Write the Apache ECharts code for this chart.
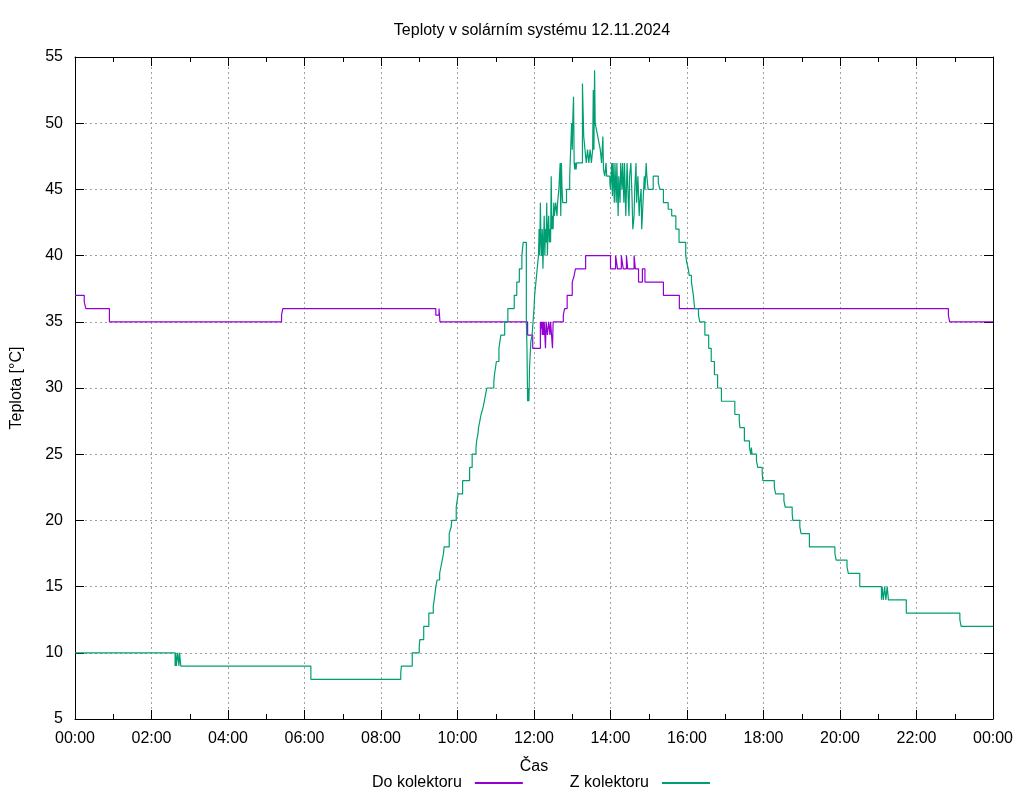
<!DOCTYPE html>
<html>
<head>
<meta charset="utf-8">
<script src="https://cdn.jsdelivr.net/npm/echarts@6/dist/echarts.min.js"></script>
<style>html,body{margin:0;padding:0;background:#fff}#c{width:1024px;height:800px}</style>
</head>
<body>
<div id="c"></div>
<script>
// time in minutes from midnight, temperature in °C (change points of a step line)
var doTimes = [0,14.5,17,54,324,326,566,571,572.5,710,718,730,731,732,733,734,735,736,738,739,741,743,745,746,749,750,766,768,772,780,783,785,801,840,848,851,857,860,865,867,877,879,884,890,894,923,948,1370,1372,1440];
var doTemps = [37,36.5,36,35,35.5,36,35.5,36,35,34,33,35,34.5,35,34,35,34,35,33,35,34,35,34,35,33,35,35.5,36,37,38,38.5,39,40,39,40,39,40,39,40,39,40,39,38,39,38,37,36,35.5,35,35];

var zTimes = [0,157,158,159,161,163,164,166,370,511,512,529,540,541,547,555,562,563.5,566,568,572,574,576,578,579,587,590,591,598,601,608,619,623,629,630,632,633,635,637,640,642,644,646,657,658,661,665,668,674,679,689,693,697,701,703,708,709,710,711,712,713,715,717,718.5,720,721,723,725,727,728,729,730,731,732,733,734,735,736,737,738,739,740,741,742,743,744,745,746,747,748,749,750,751,752,754,756,757,759,761,762,763,764,765,771,776,779,780,781,782,783,784,785,786,787,796,797,798,800,802,804,806,808,810,812,813,814,815,816,818,820,822,824,826,828,829,831,833,834,839,840,842,843,844,846,847,849,850,852,853,855,856,858,859,861,862,864,865,866,868,869,870,872,874,875,877,878,880,881,883,885,886,888,889,891,893,894,896,897,899,907,915,917.5,923,930.5,936,942.5,947.5,958,959.5,962,963.5,967,970,972,978,980,988,994,998,1003,1008,1014,1035,1042,1043,1050,1058,1060,1061,1062,1069,1071,1078,1079,1097,1099,1112,1114,1125,1126,1137,1139,1152,1192,1194,1211,1213,1231,1265,1266,1268,1270,1272,1274,1276,1304,1388,1390,1440];
var zTemps = [10,9,10,9,10,9,10,9,8,8.5,9,10,10.5,11,12,13,13.5,14,15,15.5,16,16.5,17,17.5,18,19,19.5,20,21,22,23,24,25,25.5,26,26.5,27,27.5,28,28.5,29,29.5,30,30.5,31,32,33,34,35,36,37,38,39,40,41,35,33,29,30,29,31.5,33.5,34,35,36,37,38,39,40,42,40,44,41,40,42,39,41,43,40,42,41,44,40,42,43,41,42,41,46,42,43,42,44,43,44,43,44,45,47,43,47,45,44,45,46,50,48,50.5,52,47,46.5,47,46.5,47,53,51,49,48,47,48,47,48,47,48,52.5,48,54,50,49.5,49,48.5,48,47,49,46.5,46,47,46,45.5,45,47,44.5,47,44,47,44,47,43,46,44,47,45,47,44,47,43,45,47,44,43,46,47,44,42,43,45,47,44,46,43,44,45,42,44,46,45,47,46,45,46,45.5,45,44,43.5,43,42,41,40,39.5,39,38.5,38,37,36,35.5,35,34,33,32,31,30,29,28,27.5,27,26,25.5,25,25.5,25,24.5,24,23.5,23,22.5,22,21.5,21,20.5,20,19.5,19,18,17.5,17,16.5,16,15,14,15,14,15,14,15,14,13,12.5,12,12];

var xTickMinutes = [0,120,240,360,480,600,720,840,960,1080,1200,1320,1440];
var yTicks = [5,10,15,20,25,30,35,40,45,50,55];

function pairs(t, v){ return t.map(function(x,i){ return [x, v[i]]; }); }
function fmt(m){ var h = Math.floor(m/60)%24, mm = Math.round(m%60); return (h<10?'0':'')+h+':'+(mm<10?'0':'')+mm; }

var FONT = '"Liberation Sans", Arial, sans-serif';
var FS = 16;
var gridLine = {show:true, lineStyle:{color:'#a0a0a0', type:[2,3], width:1}};

var chart = echarts.init(document.getElementById('c'), null, {renderer:'canvas'});
chart.setOption({
  animation:false,
  backgroundColor:'#ffffff',
  textStyle:{fontFamily:FONT},
  title:{text:'Teploty v solárním systému 12.11.2024', left:527, textAlign:'center', top:18,
    textStyle:{fontFamily:FONT, fontSize:FS, fontWeight:'normal', color:'#000'}},
  grid:{left:75, right:31, top:57, bottom:81, containLabel:false},
  legend:{left:367, top:770, align:'right', itemWidth:48, itemHeight:2, itemGap:47, icon:'rect',
    textStyle:{fontFamily:FONT, fontSize:FS, color:'#000', padding:[0,8,0,0]},
    data:['Do kolektoru','Z kolektoru']},
  xAxis:[{
    type:'value', min:0, max:1440, interval:120, position:'bottom',
    name:'Čas', nameLocation:'middle', nameGap:40,
    nameTextStyle:{fontFamily:FONT, fontSize:FS, color:'#000'},
    axisLine:{show:true, onZero:false, lineStyle:{color:'#000', width:1}},
    axisTick:{show:true, inside:true, length:9, lineStyle:{color:'#000'}},
    minorTick:{show:true, splitNumber:2, length:5, lineStyle:{color:'#000'}},
    axisLabel:{fontFamily:FONT, fontSize:FS, color:'#000', margin:12, formatter:function(v){ return fmt(v); }},
    splitLine:gridLine
  },{
    type:'value', min:0, max:1440, interval:120, position:'top',
    axisLine:{show:true, onZero:false, lineStyle:{color:'#000', width:1}},
    axisTick:{show:true, inside:true, length:9, lineStyle:{color:'#000'}},
    minorTick:{show:true, splitNumber:2, length:5, lineStyle:{color:'#000'}},
    axisLabel:{show:false}, splitLine:{show:false}
  }],
  yAxis:[{
    type:'value', min:5, max:55, interval:5, position:'left',
    name:'Teplota [°C]', nameLocation:'middle', nameGap:50, nameRotate:90,
    nameTextStyle:{fontFamily:FONT, fontSize:FS, color:'#000'},
    axisLine:{show:true, onZero:false, lineStyle:{color:'#000', width:1}},
    axisTick:{show:true, inside:true, length:9, lineStyle:{color:'#000'}},
    axisLabel:{fontFamily:FONT, fontSize:FS, color:'#000', margin:12},
    splitLine:gridLine
  },{
    type:'value', min:5, max:55, interval:5, position:'right',
    axisLine:{show:true, onZero:false, lineStyle:{color:'#000', width:1}},
    axisTick:{show:true, inside:true, length:9, lineStyle:{color:'#000'}},
    axisLabel:{show:false}, splitLine:{show:false}
  }],
  series:[{
    name:'Do kolektoru', type:'line', step:'end', showSymbol:false, symbol:'none',
    xAxisIndex:0, yAxisIndex:0,
    color:'#9400d3', lineStyle:{color:'#9400d3', width:1.2},
    data:pairs(doTimes, doTemps)
  },{
    name:'Z kolektoru', type:'line', step:'end', showSymbol:false, symbol:'none',
    xAxisIndex:0, yAxisIndex:0,
    color:'#009e73', lineStyle:{color:'#009e73', width:1.2},
    data:pairs(zTimes, zTemps)
  }]
});
</script>
</body>
</html>
